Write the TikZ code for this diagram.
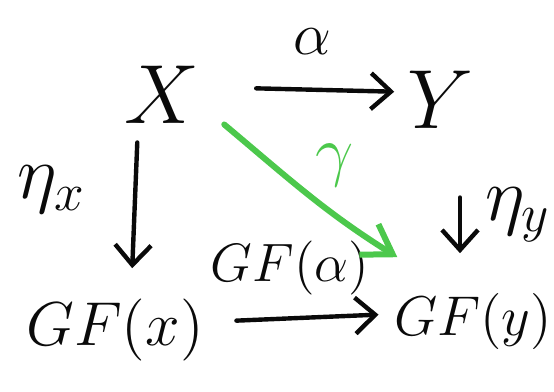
\RequirePackage{fix-cm}
\documentclass[tikz,border=0pt]{standalone}
\usepackage{xcolor}
\usepackage{tikz}
\usetikzlibrary{arrows.meta}

\definecolor{penblack}{RGB}{10,10,10}
\definecolor{pengreen}{RGB}{76,200,76}

\begin{document}
\begin{tikzpicture}[
        x=0.25pt, y=-0.25pt,
        obj/.style={inner sep=0pt, text=penblack, font=\fontsize{21}{24}\selectfont},
        gf/.style={inner sep=0pt, text=penblack, font=\fontsize{15.5}{18}\selectfont},
        lbl/.style={inner sep=0pt, text=penblack, font=\fontsize{15}{18}\selectfont},
        arrow/.style={-{Straight Barb[length=5pt, width=9pt]}, line width=1.1pt, draw=penblack, line cap=round},
        greenarrow/.style={-{Straight Barb[length=7pt, width=9pt]}, line width=1.5pt, draw=pengreen, line cap=round}
    ]
        \useasboundingbox (0,0) rectangle (554,392);

        \node[obj] (objx) at (162,95) {$X$};
        \node[obj] (objy) at (440,100) {$Y$};
        \node[gf] (gfx) at (115,330) {$GF(x)$};
        \node[gf, font=\fontsize{14}{17}\selectfont] (gfy) at (473,322) {$GF(y)$};

        \node[lbl] (lalpha) at (312,42) {$\alpha$};
        \node[lbl, font=\fontsize{19}{22}\selectfont] (letax) at (52,190) {$\eta_x$};
        \node[lbl, font=\fontsize{19}{22}\selectfont] (letay) at (518,215) {$\eta_y$};
        \node[lbl, font=\fontsize{13.5}{16}\selectfont] (lgfalpha) at (290,268) {$GF(\alpha)$};
        \node[lbl, text=pengreen, font=\fontsize{17}{20}\selectfont] (lgamma) at (335,165) {$\gamma$};

        \draw[arrow, shorten <=14pt, shorten >=3pt] ([yshift=2pt]objx.east) -- ([yshift=2pt]objy.west);
        \draw[arrow, shorten <=4.5pt, shorten >=7.5pt] ([xshift=-6pt]objx.south) -- ([xshift=4pt]gfx.north);
        \draw[arrow, shorten <=17pt, shorten >=10pt] ([xshift=5pt]objy.south) -- ([xshift=-3.25pt]gfy.north);
        \draw[arrow, shorten <=8pt, shorten >=3.7pt] ([yshift=2pt]gfx.east) -- ([yshift=2pt]gfy.west);
        \draw[greenarrow] ([xshift=6pt]objx.south east) to[out=-40, in=148] ([xshift=1pt, yshift=9pt]gfy.north west);
    \end{tikzpicture}
\end{document}
